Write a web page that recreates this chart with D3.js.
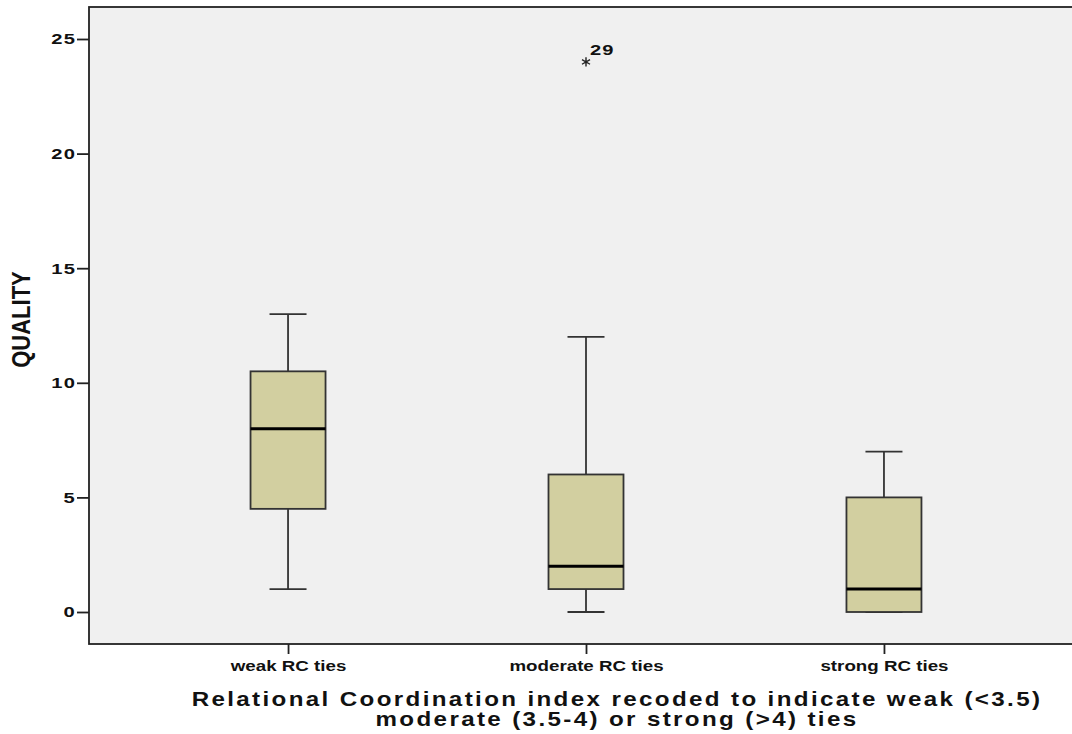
<!DOCTYPE html>
<html><head><meta charset="utf-8">
<script src="https://cdn.jsdelivr.net/npm/d3@7"></script>
<style>body{margin:0;background:#fff}</style>
</head><body>
<svg id="c" width="1072" height="734"></svg>
<script>
const categories = ["weak RC ties", "moderate RC ties", "strong RC ties"];
const mins    = [1, 0, 0];
const q1s     = [4.5, 1, 0];
const medians = [8, 2, 1];
const q3s     = [10.5, 6, 5];
const maxs    = [13, 12, 7];
const outliers = [{cat: "moderate RC ties", value: 24, label: "29"}];
const yTicks = [0, 5, 10, 15, 20, 25];

const FONT = "Liberation Sans, Arial, sans-serif";
const svg = d3.select("#c");
const L = 89, T = 7, R = 1083, B = 644;
const y = d3.scaleLinear().domain([0, 25]).range([612, 39]);
const x = d3.scalePoint().domain(categories).range([L, R]).padding(0.668);

svg.append("rect").attr("x", L).attr("y", T).attr("width", R - L).attr("height", B - T)
  .attr("fill", "#f0f0f0").attr("stroke", "#222").attr("stroke-width", 1.8);

// y axis
const sxY = 1.3;
const ya = svg.append("g").attr("transform", `translate(${L},0)`)
  .call(d3.axisLeft(y).tickValues(yTicks).tickSize(12).tickPadding(2));
ya.select(".domain").remove();
ya.selectAll("line").attr("stroke", "#222").attr("stroke-width", 1.8);
ya.selectAll("text").attr("font-family", FONT)
  .attr("font-weight", "bold").attr("font-size", 15.5).attr("letter-spacing", 0.9).attr("fill", "#111")
  .attr("x", -13 / sxY).attr("transform", `scale(${sxY},1)`);

// x axis
const sxX = 1.25;
const xa = svg.append("g").attr("transform", `translate(0,${B})`)
  .call(d3.axisBottom(x).tickSize(10).tickPadding(6));
xa.select(".domain").remove();
xa.selectAll("line").attr("stroke", "#222").attr("stroke-width", 1.8);
xa.selectAll("text").attr("font-family", FONT)
  .attr("font-weight", "bold").attr("font-size", 15).attr("fill", "#111")
  .attr("transform", `scale(${sxX},1)`);

const boxW = 75, capW = 37;
const data = categories.map((c, i) => ({c, min: mins[i], q1: q1s[i], med: medians[i], q3: q3s[i], max: maxs[i]}));
const g = svg.append("g");
data.forEach(d => {
  const cx = x(d.c);
  const st = "#333";
  g.append("line").attr("x1", cx).attr("x2", cx).attr("y1", y(d.max)).attr("y2", y(d.q3)).attr("stroke", st).attr("stroke-width", 1.8);
  g.append("line").attr("x1", cx).attr("x2", cx).attr("y1", y(d.q1)).attr("y2", y(d.min)).attr("stroke", st).attr("stroke-width", 1.8);
  g.append("line").attr("x1", cx - capW/2).attr("x2", cx + capW/2).attr("y1", y(d.max)).attr("y2", y(d.max)).attr("stroke", st).attr("stroke-width", 1.8);
  g.append("line").attr("x1", cx - capW/2).attr("x2", cx + capW/2).attr("y1", y(d.min)).attr("y2", y(d.min)).attr("stroke", st).attr("stroke-width", 1.8);
  g.append("rect").attr("x", cx - boxW/2).attr("y", y(d.q3)).attr("width", boxW).attr("height", y(d.q1) - y(d.q3))
    .attr("fill", "#d2cfa0").attr("stroke", "#333").attr("stroke-width", 1.8);
  g.append("line").attr("x1", cx - boxW/2).attr("x2", cx + boxW/2).attr("y1", y(d.med)).attr("y2", y(d.med)).attr("stroke", "#000").attr("stroke-width", 3);
});

outliers.forEach(o => {
  const cx = x(o.cat), cy = y(o.value);
  g.append("path").attr("d", d3.symbol(d3.symbolAsterisk, 60)())
    .attr("transform", `translate(${cx},${cy})`).attr("stroke", "#222").attr("stroke-width", 1.4).attr("fill", "none");
  g.append("text").attr("transform", `translate(${cx + 4},${cy - 7}) scale(1.3,1)`).text(o.label)
    .attr("font-family", FONT).attr("font-weight", "bold")
    .attr("font-size", 15.5).attr("letter-spacing", 0.9).attr("fill", "#111");
});

// axis titles
svg.append("text").attr("transform", `translate(30,${(T + B)/2 - 6}) rotate(-90) scale(1,1.2)`).attr("text-anchor", "middle")
  .attr("font-family", FONT).attr("font-weight", "bold").attr("font-size", 22)
  .attr("fill", "#111").text("QUALITY");
const titleLines = ["Relational Coordination index recoded to indicate weak (<3.5)", "moderate (3.5-4) or strong (>4) ties"];
titleLines.forEach((t, i) => {
  svg.append("text").attr("text-anchor", "middle")
    .attr("transform", `translate(617,${706 + i * 20}) scale(1.24,1)`)
    .attr("font-family", FONT).attr("font-weight", "bold").attr("font-size", 19.5)
    .attr("letter-spacing", 1.9).attr("fill", "#111").text(t);
});
</script>
</body></html>
